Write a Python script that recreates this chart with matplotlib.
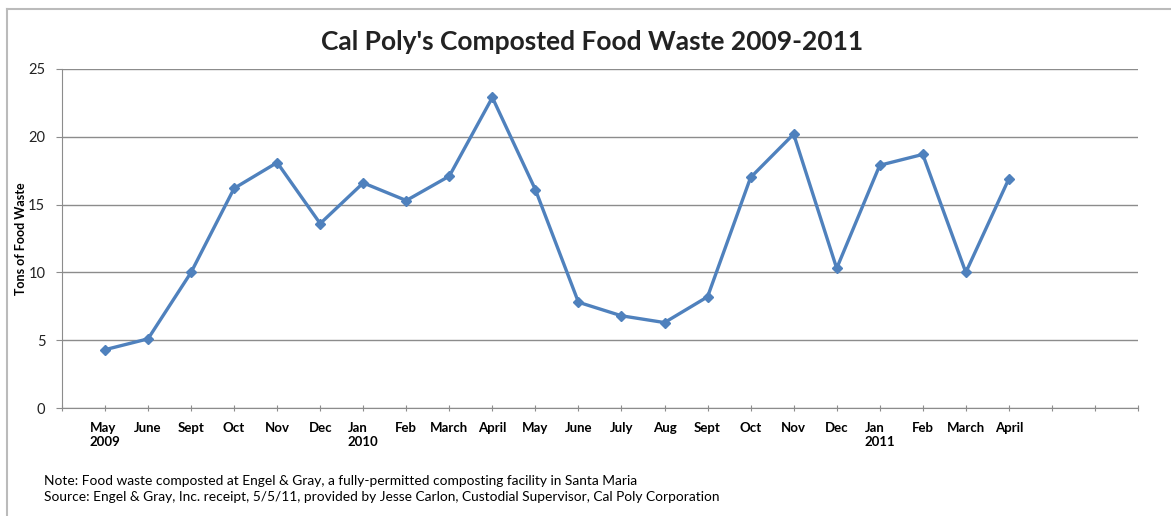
import numpy as np
import matplotlib.pyplot as plt
from matplotlib.lines import Line2D

plt.rcParams['font.family'] = ['Lato', 'DejaVu Sans']

# data
months = ['May\n2009', 'June', 'Sept', 'Oct', 'Nov', 'Dec', 'Jan\n2010', 'Feb',
          'March', 'April', 'May', 'June', 'July', 'Aug', 'Sept', 'Oct', 'Nov',
          'Dec', 'Jan\n2011', 'Feb', 'March', 'April']
tons = [4.3, 5.1, 10.0, 16.2, 18.1, 13.6, 16.6, 15.3, 17.1, 22.9, 16.1,
        7.8, 6.8, 6.3, 8.2, 17.0, 20.2, 10.3, 17.9, 18.7, 10.0, 16.9]
yticks = [0, 5, 10, 15, 20, 25]

fig = plt.figure(figsize=(11.71, 5.16), dpi=100)
ax = fig.add_axes([0.0529, 0.2093, 0.9189, 0.657])

x = np.arange(len(tons))
ax.plot(x, tons, color='#4F81BD', lw=2.4, marker='D', ms=5.5,
        markerfacecolor='#4F81BD', markeredgecolor='#4F81BD', zorder=3)

ax.set_xlim(-1, 24)
ax.set_ylim(0, 25)
ax.set_yticks(yticks)
ax.yaxis.grid(True, color='#8c8c8c', lw=1)
ax.set_axisbelow(True)

# category ticks, plus empty slots to the right
ax.set_xticks(np.arange(-1, 25))
ax.set_xticklabels([''] + months + ['', '', ''], fontsize=9.5,
                   fontweight='bold', va='top', ha='center')
for lbl in ax.get_xticklabels():
    lbl.set_multialignment('left')
ax.tick_params(axis='x', length=4, direction='inout', color='#8c8c8c', pad=8)
ax.tick_params(axis='y', length=4, direction='out', color='#8c8c8c',
               labelsize=10.5, pad=8)
for lbl in ax.get_yticklabels():
    lbl.set_color('#222222')

for side in ['top', 'right']:
    ax.spines[side].set_visible(False)
for side in ['left', 'bottom']:
    ax.spines[side].set_color('#8c8c8c')

ax.set_ylabel('Tons of Food Waste', fontsize=9, fontweight='bold', labelpad=1)

fig.text(0.506, 0.918, "Cal Poly's Composted Food Waste 2009-2011",
         ha='center', va='center', fontsize=19, fontweight='bold', color='#222222')

fig.text(0.038, 0.068, 'Note: Food waste composted at Engel & Gray, a fully-permitted '
         'composting facility in Santa Maria', fontsize=9.9, va='center')
fig.text(0.038, 0.036, 'Source: Engel & Gray, Inc. receipt, 5/5/11, provided by Jesse '
         'Carlon, Custodial Supervisor, Cal Poly Corporation', fontsize=9.9, va='center')

# outer frame (left and top edges visible)
fig.add_artist(Line2D([0.006, 0.006], [0.0, 0.982], color='#bbbbbb', lw=1.5,
                      transform=fig.transFigure))
fig.add_artist(Line2D([0.006, 1.0], [0.982, 0.982], color='#bbbbbb', lw=1.5,
                      transform=fig.transFigure))

fig.savefig('out.png', dpi=100)
